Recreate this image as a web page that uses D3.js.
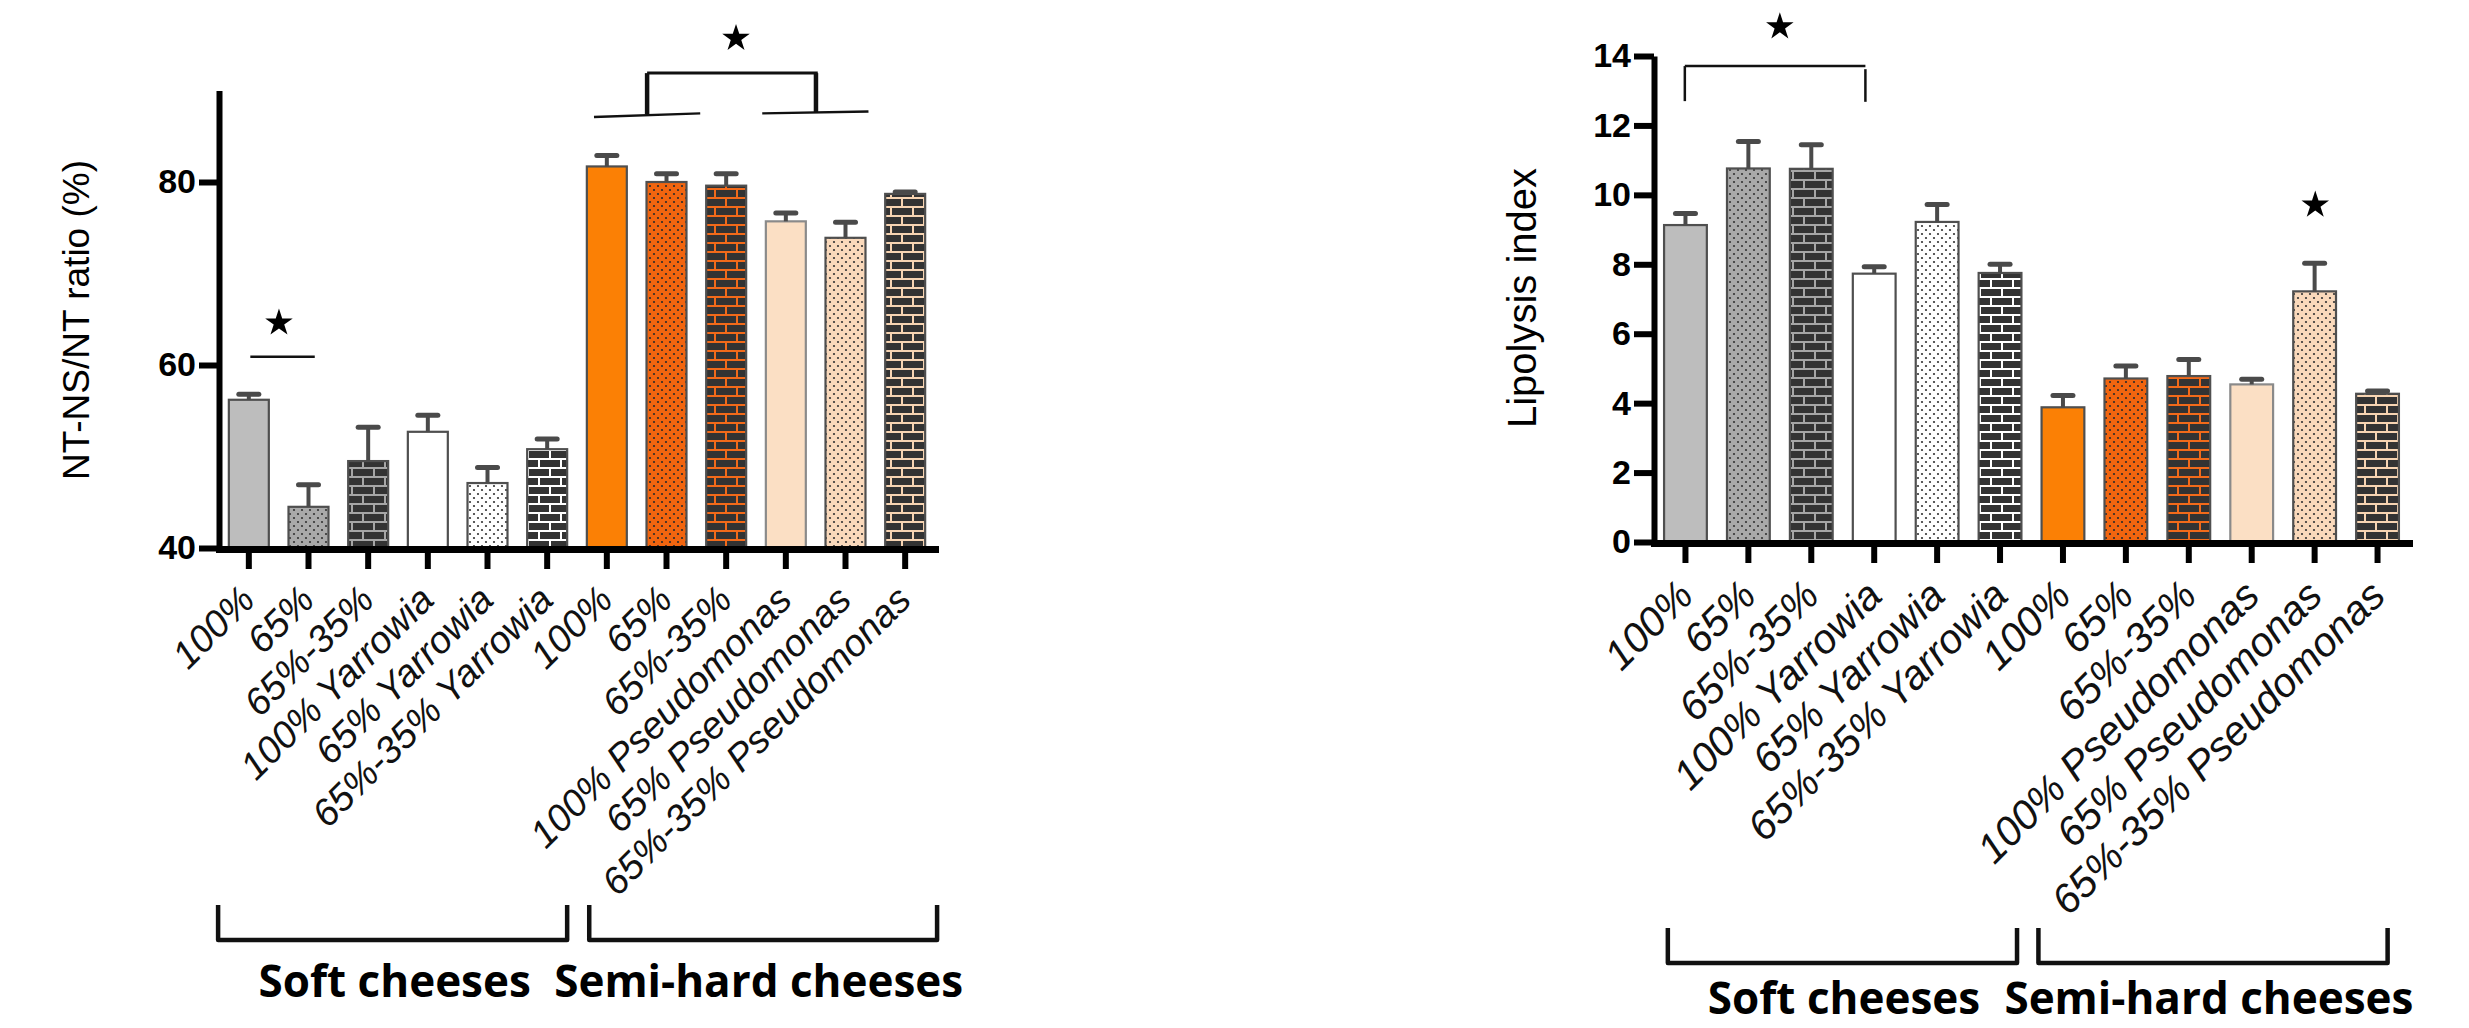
<!DOCTYPE html>
<html>
<head>
<meta charset="utf-8">
<script src="https://cdn.jsdelivr.net/npm/d3@7"></script>
<style>
  body { margin: 0; background: #fff; }
  text { font-family: "Liberation Sans", Arial, sans-serif; }
</style>
</head>
<body>
<svg id="fig" width="2469" height="1028"></svg>
<script>
/* Data */
var categories = ["100%", "65%", "65%-35%", "100% Yarrowia", "65% Yarrowia", "65%-35% Yarrowia",
                  "100%", "65%", "65%-35%", "100% Pseudomonas", "65% Pseudomonas", "65%-35% Pseudomonas"];
var ntMeans   = [56.2, 44.5, 49.5, 52.7, 47.1, 50.8, 81.7, 80.0, 79.6, 75.7, 73.9, 78.7];
var ntErrors  = [0.6, 2.4, 3.7, 1.8, 1.7, 1.1, 1.2, 0.9, 1.3, 0.9, 1.7, 0.2];
var lipoMeans  = [9.13, 10.76, 10.75, 7.73, 9.22, 7.75, 3.88, 4.71, 4.78, 4.54, 7.22, 4.27];
var lipoErrors = [0.33, 0.78, 0.69, 0.20, 0.50, 0.25, 0.34, 0.36, 0.48, 0.15, 0.81, 0.08];
var ntTicks   = [40, 60, 80];
var lipoTicks = [0, 2, 4, 6, 8, 10, 12, 14];
var groups = ["Soft cheeses", "Semi-hard cheeses"];

/* bar fills (pattern ids), one per category */
var fills = ["solid-grey", "dots-grey", "bricks-grey", "solid-white", "dots-white", "bricks-white",
             "solid-orange", "dots-orange", "bricks-orange", "solid-peach", "dots-peach", "bricks-peach"];

var svg = d3.select("#fig");
var defs = svg.append("defs");

function solidPattern(id, color) {
  defs.append("pattern").attr("id", id).attr("patternUnits", "userSpaceOnUse")
      .attr("width", 10).attr("height", 10)
    .append("rect").attr("width", 10).attr("height", 10).attr("fill", color);
}
function dotPattern(id, bg, dot) {
  var p = defs.append("pattern").attr("id", id).attr("patternUnits", "userSpaceOnUse")
      .attr("width", 8).attr("height", 8);
  p.append("rect").attr("width", 8).attr("height", 8).attr("fill", bg);
  p.append("circle").attr("cx", 2).attr("cy", 2).attr("r", 1.1).attr("fill", dot);
  p.append("circle").attr("cx", 6).attr("cy", 6).attr("r", 1.1).attr("fill", dot);
}
function brickPattern(id, mortar) {
  var p = defs.append("pattern").attr("id", id).attr("patternUnits", "userSpaceOnUse")
      .attr("width", 22).attr("height", 18);
  p.append("rect").attr("width", 22).attr("height", 18).attr("fill", mortar);
  p.append("rect").attr("x", 1).attr("y", 1).attr("width", 20).attr("height", 7).attr("fill", "#333");
  p.append("rect").attr("x", -10).attr("y", 10).attr("width", 20).attr("height", 7).attr("fill", "#333");
  p.append("rect").attr("x", 12).attr("y", 10).attr("width", 20).attr("height", 7).attr("fill", "#333");
}
solidPattern("solid-grey", "#bdbdbd");
dotPattern("dots-grey", "#a9a9a9", "#333");
brickPattern("bricks-grey", "#a6a6a6");
solidPattern("solid-white", "#ffffff");
dotPattern("dots-white", "#ffffff", "#333");
brickPattern("bricks-white", "#ffffff");
solidPattern("solid-orange", "#fb8005");
dotPattern("dots-orange", "#f2650f", "#2a2a2a");
brickPattern("bricks-orange", "#f26a1a");
solidPattern("solid-peach", "#fbdfc4");
dotPattern("dots-peach", "#fad9bb", "#333");
brickPattern("bricks-peach", "#f7d4b2");

var star = d3.symbol().type(d3.symbolStar).size(235);

function drawPanel(cfg) {
  var g = svg.append("g");

  var x = d3.scaleBand().domain(d3.range(categories.length))
      .range(cfg.xRange).paddingInner(cfg.pad).paddingOuter(cfg.pad / 2);
  var y = d3.scaleLinear().domain(cfg.domain).range(cfg.yRange);
  var step = x.step(), bw = x.bandwidth();
  var pos = function(i) { return x(0) + i * step; };   // fractional band position, from first band start

  // bars
  g.selectAll("rect.bar").data(cfg.means).enter().append("rect")
      .attr("class", "bar")
      .attr("x", function(d, i) { return x(i); })
      .attr("width", bw)
      .attr("y", function(d) { return y(d); })
      .attr("height", function(d) { return y(cfg.domain[0]) - y(d); })
      .attr("fill", function(d, i) { return "url(#" + fills[i] + ")"; })
      .attr("stroke", function(d, i) { return i == 9 ? "#8a8a8a" : "#4f4f4f"; })
      .attr("stroke-width", 2.2);

  // error bars (upper only)
  var eb = g.selectAll("g.err").data(cfg.means).enter().append("g").attr("class", "err");
  eb.append("line")
      .attr("x1", function(d, i) { return x(i) + bw / 2; })
      .attr("x2", function(d, i) { return x(i) + bw / 2; })
      .attr("y1", function(d) { return y(d); })
      .attr("y2", function(d, i) { return y(d + cfg.errs[i]); })
      .attr("stroke", "#4a4a4a").attr("stroke-width", 4);
  eb.append("line")
      .attr("x1", function(d, i) { return x(i) + bw / 2 - 10; })
      .attr("x2", function(d, i) { return x(i) + bw / 2 + 10; })
      .attr("y1", function(d, i) { return y(d + cfg.errs[i]); })
      .attr("y2", function(d, i) { return y(d + cfg.errs[i]); })
      .attr("stroke", "#4a4a4a").attr("stroke-width", 5).attr("stroke-linecap", "round");

  // y axis
  var ya = g.append("g").attr("transform", "translate(" + cfg.xRange[0] + ",0)")
      .call(d3.axisLeft(y).tickValues(cfg.ticks).tickSize(20).tickSizeOuter(0).tickPadding(3));
  ya.select(".domain").attr("stroke", "#000").attr("stroke-width", 6);
  ya.selectAll(".tick line").attr("stroke", "#000").attr("stroke-width", 6);
  ya.selectAll(".tick text").attr("fill", "#000")
      .style("font-family", "'Liberation Sans', Arial, sans-serif")
      .style("font-weight", "bold").style("font-size", "34px");

  // x axis
  var xa = g.append("g").attr("transform", "translate(0," + (cfg.yRange[0] + 1) + ")")
      .call(d3.axisBottom(x).tickSize(20).tickSizeOuter(0).tickFormat(""));
  xa.select(".domain").attr("stroke", "#000").attr("stroke-width", 7).attr("stroke-linecap", "square");
  xa.selectAll(".tick line").attr("stroke", "#000").attr("stroke-width", 6);

  // rotated category labels
  g.selectAll("text.cat").data(categories).enter().append("text")
      .attr("class", "cat")
      .attr("transform", function(d, i) {
        return "translate(" + (x(i) + bw / 2 + cfg.labelDx) + "," + cfg.labelY + ") rotate(-45)";
      })
      .attr("text-anchor", "end")
      .style("font-style", "italic").style("font-size", cfg.labelSize + "px")
      .attr("fill", "#111")
      .text(function(d) { return d; });

  // axis title
  g.append("text")
      .attr("transform", "translate(" + cfg.titleX + "," + cfg.titleY + ") rotate(-90)")
      .attr("text-anchor", "middle")
      .style("font-size", cfg.titleSize + "px")
      .attr("fill", "#000")
      .text(cfg.title);

  // significance annotations
  cfg.lines.forEach(function(l) {
    g.append("line")
        .attr("x1", pos(l[0])).attr("y1", y(l[1]))
        .attr("x2", pos(l[2])).attr("y2", y(l[3]))
        .attr("stroke", "#111").attr("stroke-width", l[4]);
  });
  cfg.stars.forEach(function(s) {
    g.append("path").attr("d", star)
        .attr("transform", "translate(" + pos(s[0]) + "," + y(s[1]) + ")")
        .attr("fill", "#000");
  });

  // group brackets and names
  cfg.brackets.forEach(function(b, k) {
    var x1 = pos(b[0]), x2 = pos(b[1]);
    g.append("path")
        .attr("d", "M" + x1 + "," + cfg.bracketY[0] + "V" + cfg.bracketY[1] + "H" + x2 + "V" + cfg.bracketY[0])
        .attr("fill", "none").attr("stroke", "#111").attr("stroke-width", 4.5)
        .attr("stroke-linejoin", "round");
    g.append("text")
        .attr("x", pos(b[2])).attr("y", cfg.groupY)
        .attr("text-anchor", "middle")
        .style("font-family", "'Open Sans', sans-serif")
        .style("font-weight", "bold").style("font-size", "44px")
        .attr("fill", "#000")
        .text(groups[k]);
  });
}

// left panel: NT-NS/NT ratio
drawPanel({
  means: ntMeans, errs: ntErrors, ticks: ntTicks,
  domain: [40, 90], xRange: [219, 935], yRange: [548, 90.5], pad: 0.33,
  title: "NT-NS/NT ratio (%)", titleX: 89, titleY: 320, titleSize: 37,
  labelY: 602, labelDx: 8, labelSize: 38,
  groupY: 997, bracketY: [905, 940],
  // [pos1, value1, pos2, value2, stroke width]
  lines: [[0.36, 60.9, 1.44, 60.9, 2.5],
          [7.01, 91.9, 9.87, 91.9, 3],
          [7.01, 91.9, 7.01, 87.4, 4.5],
          [9.84, 91.9, 9.84, 87.6, 4.5],
          [6.12, 87.1, 7.90, 87.5, 2.5],
          [8.94, 87.5, 10.72, 87.7, 2.5]],
  stars: [[0.84, 64.6], [8.5, 95.7]],
  brackets: [[-0.18, 5.67, 2.78], [6.04, 11.87, 8.88]]
});

// right panel: lipolysis index
drawPanel({
  means: lipoMeans, errs: lipoErrors, ticks: lipoTicks,
  domain: [0, 14], xRange: [1654, 2409], yRange: [542, 56], pad: 0.32,
  title: "Lipolysis index", titleX: 1536, titleY: 298, titleSize: 40,
  labelY: 598, labelDx: 10, labelSize: 41,
  groupY: 1014, bracketY: [928, 963],
  lines: [[0.33, 13.71, 3.2, 13.71, 2.5],
          [0.33, 13.71, 0.33, 12.7, 2.5],
          [3.2, 13.62, 3.2, 12.68, 2.5]],
  stars: [[1.84, 14.84], [10.35, 9.71]],
  brackets: [[0.06, 5.61, 2.86], [5.95, 11.5, 8.66]]
});
</script>
</body>
</html>
